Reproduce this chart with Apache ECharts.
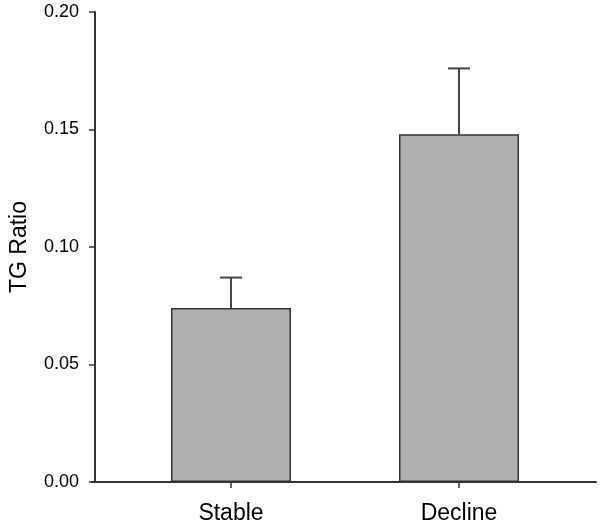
<!DOCTYPE html>
<html><head><meta charset="utf-8">
<script src="https://cdn.jsdelivr.net/npm/echarts@6/dist/echarts.min.js"></script>
<style>html,body{margin:0;padding:0;background:#fff}#c{width:600px;height:527px}</style>
</head><body><div id="c"></div>
<script>
const categories = ['Stable', 'Decline'];
const means = [0.074, 0.148];
const upperErrors = [0.087, 0.176];
const yTicks = [0, 0.05, 0.10, 0.15, 0.20];

const font = 'Liberation Sans, Arial, sans-serif';
const chart = echarts.init(document.getElementById('c'));
chart.setOption({
  animation: false,
  grid: [
    {left: 114, right: 27, top: 12, bottom: 45},
    {left: 92, right: 4, top: 12, bottom: 45}
  ],
  xAxis: [
    {type: 'category', data: categories, gridIndex: 0,
     axisLine: {show: false},
     axisTick: {show: true, alignWithLabel: true, length: 6, lineStyle: {color: '#333', width: 1.5}},
     axisLabel: {color: '#000', fontFamily: font, fontSize: 23, margin: 20}},
    {type: 'value', gridIndex: 1, min: 0, max: 1,
     axisLine: {show: true, lineStyle: {color: '#333', width: 2}},
     axisTick: {show: false}, axisLabel: {show: false}, splitLine: {show: false}}
  ],
  yAxis: [
    {type: 'value', gridIndex: 0, min: yTicks[0], max: yTicks[yTicks.length-1], interval: 0.05, offset: 22,
     name: 'TG Ratio', nameLocation: 'middle', nameGap: 64,
     nameTextStyle: {color: '#000', fontFamily: font, fontSize: 23},
     axisLine: {show: true, lineStyle: {color: '#333', width: 2}},
     axisTick: {show: true, length: 6, lineStyle: {color: '#333', width: 1.5}},
     axisLabel: {color: '#000', fontFamily: font, fontSize: 18, margin: 16,
       formatter: v => v.toFixed(2)},
     splitLine: {show: false}},
    {type: 'value', gridIndex: 1, min: 0, max: 1, show: false}
  ],
  series: [
    {type: 'bar', xAxisIndex: 0, yAxisIndex: 0, data: means, barWidth: 120,
     itemStyle: {color: '#b0b0b0', borderColor: '#333', borderWidth: 1.5}},
    {type: 'custom', xAxisIndex: 0, yAxisIndex: 0, z: 1,
     data: categories.map((c, i) => [i, means[i], upperErrors[i]]),
     renderItem: function(params, api) {
       const base = api.coord([api.value(0), api.value(1)]);
       const top = api.coord([api.value(0), api.value(2)]);
       const hw = 11;
       const style = {stroke: '#444', lineWidth: 2};
       return {type: 'group', children: [
         {type: 'line', shape: {x1: base[0], y1: base[1], x2: top[0], y2: top[1]}, style: style},
         {type: 'line', shape: {x1: top[0]-hw, y1: top[1], x2: top[0]+hw, y2: top[1]}, style: style}
       ]};
     }}
  ]
});
</script></body></html>
